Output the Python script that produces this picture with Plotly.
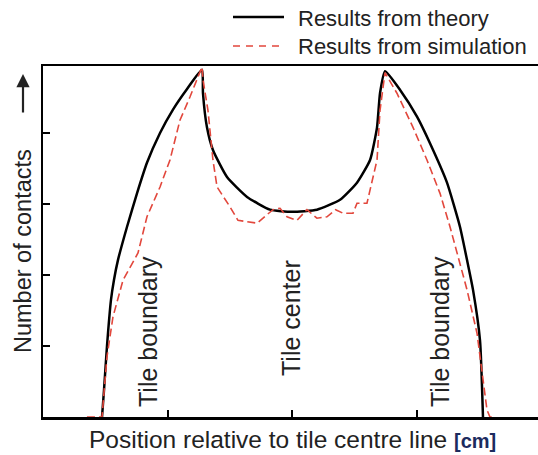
import plotly.graph_objects as go

# Theory curve (x in cm relative to tile centre, y = number of contacts, arbitrary units)
theory_x = [-1.526, -1.510, -1.486, -1.454, -1.430, -1.398, -1.325, -1.245, -1.165, -1.060,
            -0.956, -0.843, -0.723, -0.715, -0.683, -0.635, -0.522, -0.361, -0.177, 0.0,
            0.201, 0.386, 0.522, 0.627, 0.683, 0.707, 0.747, 0.867, 1.004, 1.133,
            1.245, 1.349, 1.406, 1.454, 1.510, 1.534]
theory_y = [0.0, 0.38, 1.00, 1.65, 1.93, 2.21, 2.68, 3.15, 3.58, 4.00,
            4.33, 4.62, 4.89, 4.56, 4.08, 3.76, 3.38, 3.10, 2.92, 2.89,
            2.92, 3.06, 3.30, 3.62, 4.08, 4.56, 4.87, 4.61, 4.23, 3.76,
            3.30, 2.68, 2.21, 1.79, 1.08, 0.0]

# Simulation curve
sim_x = [-1.647, -1.526, -1.486, -1.438, -1.357, -1.237, -1.165, -1.060, -0.980, -0.900,
         -0.819, -0.723, -0.715, -0.675, -0.635, -0.602, -0.498, -0.434, -0.281, -0.153,
         -0.096, -0.040, 0.040, 0.120, 0.200, 0.281, 0.350, 0.410, 0.490, 0.522,
         0.602, 0.627, 0.683, 0.707, 0.747, 0.843, 0.972, 1.084, 1.189, 1.269,
         1.325, 1.406, 1.486, 1.534, 1.566, 1.590, 1.630]
sim_y = [0.0, 0.0, 0.85, 1.41, 1.93, 2.31, 2.82, 3.24, 3.62, 4.18,
         4.51, 4.93, 4.75, 4.32, 3.62, 3.24, 2.96, 2.77, 2.73, 2.92,
         2.94, 2.82, 2.77, 2.92, 2.80, 2.82, 2.92, 2.87, 2.87, 3.01,
         3.01, 3.20, 3.62, 4.32, 4.85, 4.56, 4.08, 3.62, 3.15, 2.68,
         2.31, 1.79, 1.18, 0.52, 0.10, 0.0, 0.0]

x_ticks = [-1, 0, 1]
y_ticks = [1, 2, 3, 4]

FONT = "Liberation Sans, Arial, sans-serif"
RED = "#e2473c"
TXT = "#222222"

fig = go.Figure()
fig.add_trace(go.Scatter(x=theory_x, y=theory_y, mode="lines",
                         line=dict(color="black", width=2.5, shape="spline", smoothing=0.5),
                         showlegend=False))
fig.add_trace(go.Scatter(x=sim_x, y=sim_y, mode="lines",
                         line=dict(color=RED, width=1.6, dash="8px,4px"), showlegend=False))

W, H = 538, 455
L, R, T, B = 43, 0, 66, 38
pw, ph = W - L - R, H - T - B

def px(xp):
    return (xp - L) / pw

def py(yp):
    return (H - B - yp) / ph

fig.update_layout(
    width=W, height=H,
    margin=dict(l=L, r=R, t=T, b=B, pad=0),
    plot_bgcolor="white", paper_bgcolor="white",
    font=dict(family=FONT, color=TXT),
    xaxis=dict(range=[-2, -2 + pw / 124.5], showgrid=False, zeroline=False,
               showline=True, linecolor="black", linewidth=2.5, mirror=True,
               tickvals=x_ticks, ticks="inside", ticklen=7, tickwidth=2,
               tickcolor="black", showticklabels=False),
    yaxis=dict(range=[0, ph / 71.0], showgrid=False, zeroline=False,
               showline=True, linecolor="black", linewidth=2.5, mirror=False,
               tickvals=y_ticks, ticks="inside", ticklen=7, tickwidth=2,
               tickcolor="black", showticklabels=False),
    showlegend=False,
)

anns = []
# axis titles
anns.append(dict(xref="paper", yref="paper", x=px(23), y=py(251),
                 text="Number of contacts", textangle=-90, showarrow=False,
                 font=dict(size=23.5, color=TXT), xanchor="center", yanchor="middle"))
anns.append(dict(xref="paper", yref="paper", x=px(23), y=py(74),
                 ax=0, ay=40, axref="pixel", ayref="pixel",
                 text="", showarrow=True, arrowhead=2, arrowsize=1.2, arrowwidth=2.2,
                 arrowcolor=TXT))
anns.append(dict(xref="paper", yref="paper", x=px(292), y=py(439),
                 text="Position relative to tile centre line <b><span style='color:#1c2b5e;font-size:20px'>[cm]</span></b>",
                 showarrow=False, font=dict(size=24.5, color=TXT),
                 xanchor="center", yanchor="middle"))
# inside labels
for xc, yc, t in [(148, 332, "Tile boundary"), (291, 318, "Tile center"), (440, 332, "Tile boundary")]:
    anns.append(dict(xref="paper", yref="paper", x=px(xc), y=py(yc), text=t,
                     textangle=-90, showarrow=False, font=dict(size=25, color=TXT),
                     xanchor="center", yanchor="middle"))
# legend
anns.append(dict(xref="paper", yref="paper", x=px(296), y=py(18), text="Results from theory",
                 showarrow=False, font=dict(size=22, color=TXT), xanchor="left", yanchor="middle"))
anns.append(dict(xref="paper", yref="paper", x=px(296), y=py(47), text="Results from simulation",
                 showarrow=False, font=dict(size=22, color=TXT), xanchor="left", yanchor="middle"))
fig.update_layout(annotations=anns)

fig.add_shape(type="line", xref="paper", yref="paper", x0=px(233), x1=px(284), y0=py(17), y1=py(17),
              line=dict(color="black", width=2.5))
fig.add_shape(type="line", xref="paper", yref="paper", x0=px(233), x1=px(284), y0=py(46), y1=py(46),
              line=dict(color=RED, width=1.6, dash="7px,6px"))

fig.write_html("out.html", config={"displayModeBar": False, "staticPlot": True},
               post_script="document.body.style.margin='0';document.body.style.overflow='hidden';")
